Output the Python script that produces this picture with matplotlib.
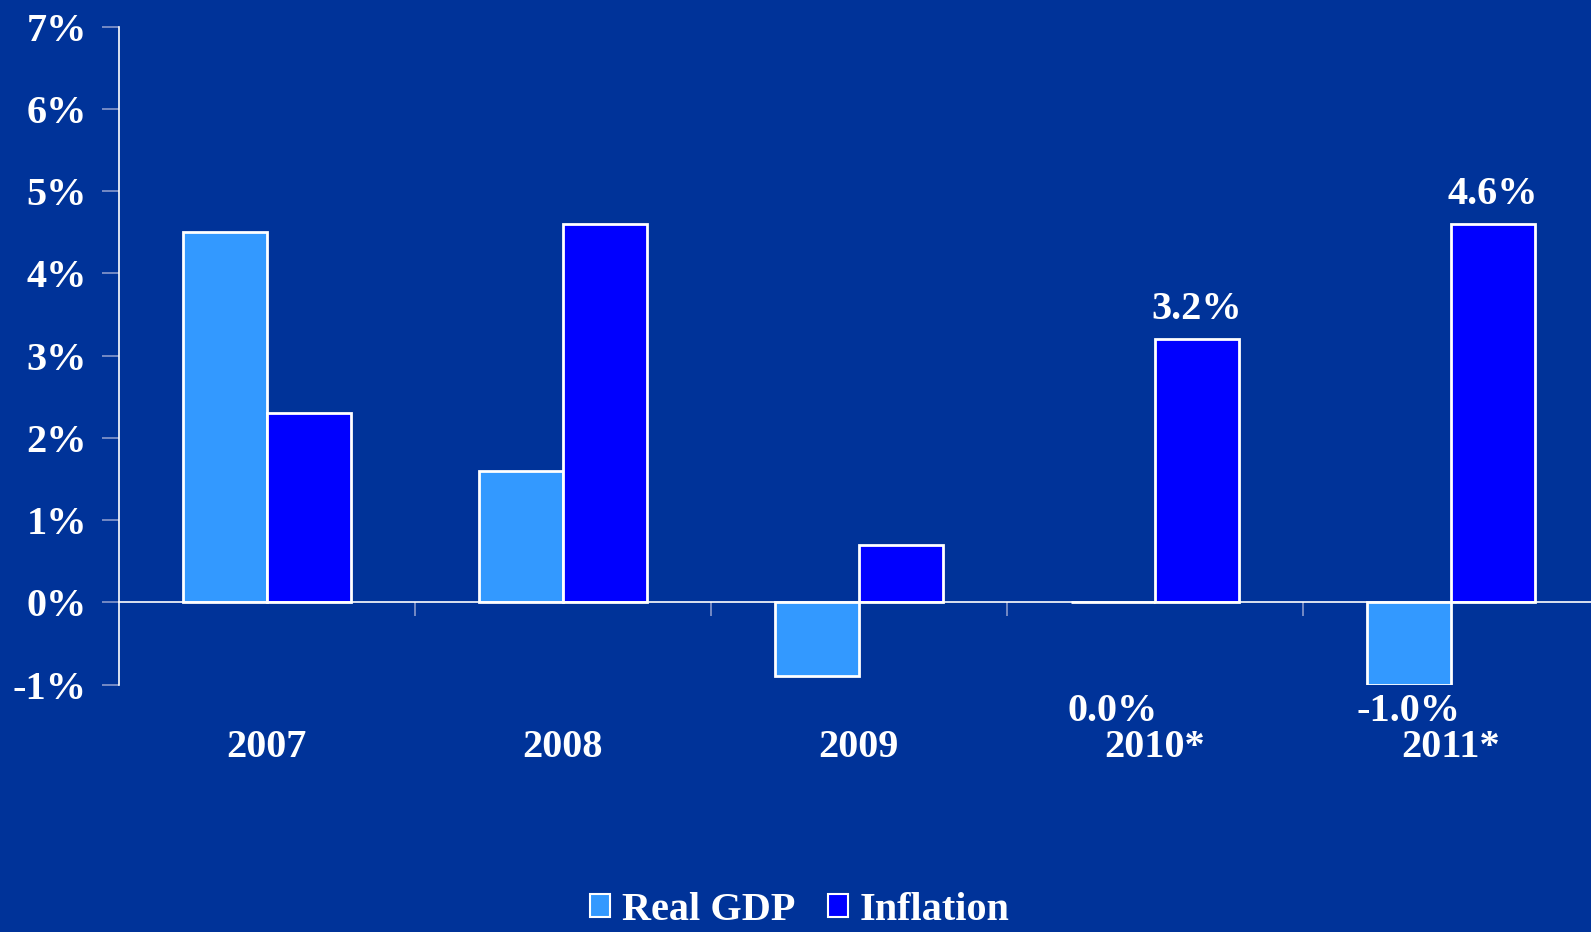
import matplotlib.pyplot as plt
from matplotlib.patches import Patch

# data
years = ['2007', '2008', '2009', '2010*', '2011*']
real_gdp = [4.5, 1.6, -0.9, 0.0, -1.0]
inflation = [2.3, 4.6, 0.7, 3.2, 4.6]
y_ticks = [-1, 0, 1, 2, 3, 4, 5, 6, 7]

bg = '#003399'
gdp_color = '#3399FF'
infl_color = '#0000FF'
tick_gray = '#8899CC'

plt.rcParams['font.family'] = ['Liberation Serif', 'DejaVu Serif']
plt.rcParams['font.weight'] = 'bold'

W, H = 1591, 932
fig = plt.figure(figsize=(W / 100, H / 100), dpi=100, facecolor=bg)
ax = fig.add_axes([118.7 / W, (H - 684.7) / H, (1599 - 118.7) / W, (684.7 - 26.7) / H])
ax.set_facecolor(bg)

n = len(years)
centers = [i + 0.5 for i in range(n)]
bw = 0.284
ax.bar([c - bw / 2 for c in centers], real_gdp, bw, color=gdp_color,
       edgecolor='white', linewidth=2, zorder=3)
ax.bar([c + bw / 2 for c in centers], inflation, bw, color=infl_color,
       edgecolor='white', linewidth=2, zorder=3)

ax.set_xlim(0, n)
ax.set_ylim(-1, 7)

# spines
for s in ['top', 'right']:
    ax.spines[s].set_visible(False)
ax.spines['left'].set_color('white')
ax.spines['left'].set_linewidth(1.2)
ax.spines['bottom'].set_position(('data', 0))
ax.spines['bottom'].set_color('white')
ax.spines['bottom'].set_linewidth(1.2)
ax.spines['bottom'].set_zorder(4)

ax.set_yticks(y_ticks)
ax.set_yticklabels([f'{t}%' for t in y_ticks])
ax.tick_params(axis='y', colors=tick_gray, length=12, width=1.2, pad=11,
               labelcolor='white', labelsize=29)

# boundary ticks (major) and year labels (minor)
ax.set_xticks(range(1, n))
ax.set_xticklabels([])
ax.tick_params(axis='x', which='major', colors=tick_gray, length=10, width=1.2, direction='out')
ax.set_xticks(centers, minor=True)
ax.set_xticklabels(years, minor=True)
ax.tick_params(axis='x', which='minor', length=0, pad=91, labelcolor='white', labelsize=29)

# data labels for forecast years
for i in [3, 4]:
    ax.annotate(f'{inflation[i]:.1f}%', (centers[i] + bw / 2, inflation[i]),
                xytext=(0, 8), textcoords='offset points', ha='center', va='bottom',
                color='white', fontsize=29, fontweight='bold')
    ax.annotate(f'{real_gdp[i]:.1f}%', (centers[i] - bw / 2, -1),
                xytext=(0, -6), textcoords='offset points', ha='center', va='top',
                color='white', fontsize=29, fontweight='bold', annotation_clip=False)

handles = [Patch(facecolor=gdp_color, edgecolor='white', linewidth=1.5, label='Real GDP'),
           Patch(facecolor=infl_color, edgecolor='white', linewidth=1.5, label='Inflation')]
leg = fig.legend(handles=handles, loc='center', bbox_to_anchor=(800 / W, 1 - 910 / H),
                 ncol=2, frameon=False, fontsize=29, handlelength=0.5, handleheight=0.5,
                 handletextpad=0.3, columnspacing=0.8)
for t in leg.get_texts():
    t.set_color('white')

fig.savefig('out.png', dpi=100, facecolor=bg)
